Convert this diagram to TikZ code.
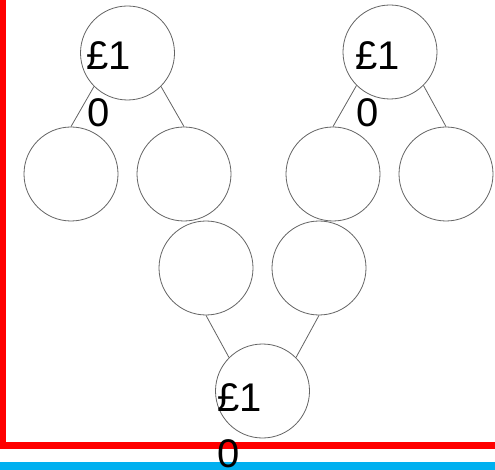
\documentclass[tikz,border=0pt]{standalone}
\definecolor{edgeGray}{RGB}{100,100,100}
\definecolor{lineRed}{RGB}{255,0,0}
\definecolor{lineBlue}{RGB}{0,176,240}
\usepackage{fontspec}
\setmainfont{Liberation Sans}
\usepackage{tikz}
\usetikzlibrary{positioning,calc}

\begin{document}
\begin{tikzpicture}[x=1pt,y=-1pt,
    ball/.style={circle,draw=edgeGray,line width=0.8pt,minimum size=94pt,inner sep=0pt},
    twig/.style={draw=edgeGray,line width=0.8pt},
    lab/.style={anchor=base,inner sep=0pt,font=\fontsize{40}{48}\selectfont}]
    \useasboundingbox (0,0) rectangle (495,470);
    % frame lines
    \draw[lineRed,line width=7pt] (2.5,0) |- (495,445.5);
    \draw[lineBlue,line width=8pt] (0,466) -- (495,466);
    % circles
    \node[ball] (t1) at (127.5,53) {};
    \node[ball] (t2) at (390,52) {};
    \foreach \n/\x in {1/71,2/184,3/333,4/446} {
        \node[ball] (a\n) at (\x,174) {};
    }
    \node[ball] (b1) at (206,268) {};
    \node[ball] (b2) at (319,268) {};
    \node[ball] (r) at (262.5,391) {};
    % edges
    \draw[twig] (t1.south west) -- (a1.north);
    \draw[twig] (t1.south east) -- (a2.north);
    \draw[twig] (t2.south west) -- (a3.north);
    \draw[twig] (t2.south east) -- (a4.north);
    \draw[twig] (r.north west) -- (b1.south);
    \draw[twig] (r.north east) -- (b2.south);
    % labels
    \node[lab] (p1) at (109,70) {£1};
    \node[lab] (z1) at (99,127) {0};
    \node[lab] (p2) at (378,70) {£1};
    \node[lab] (z2) at (368,127) {0};
    \node[lab] (p3) at (240,411) {£1};
    \node[lab] (z3) at (229,467) {0};
\end{tikzpicture}
\end{document}
